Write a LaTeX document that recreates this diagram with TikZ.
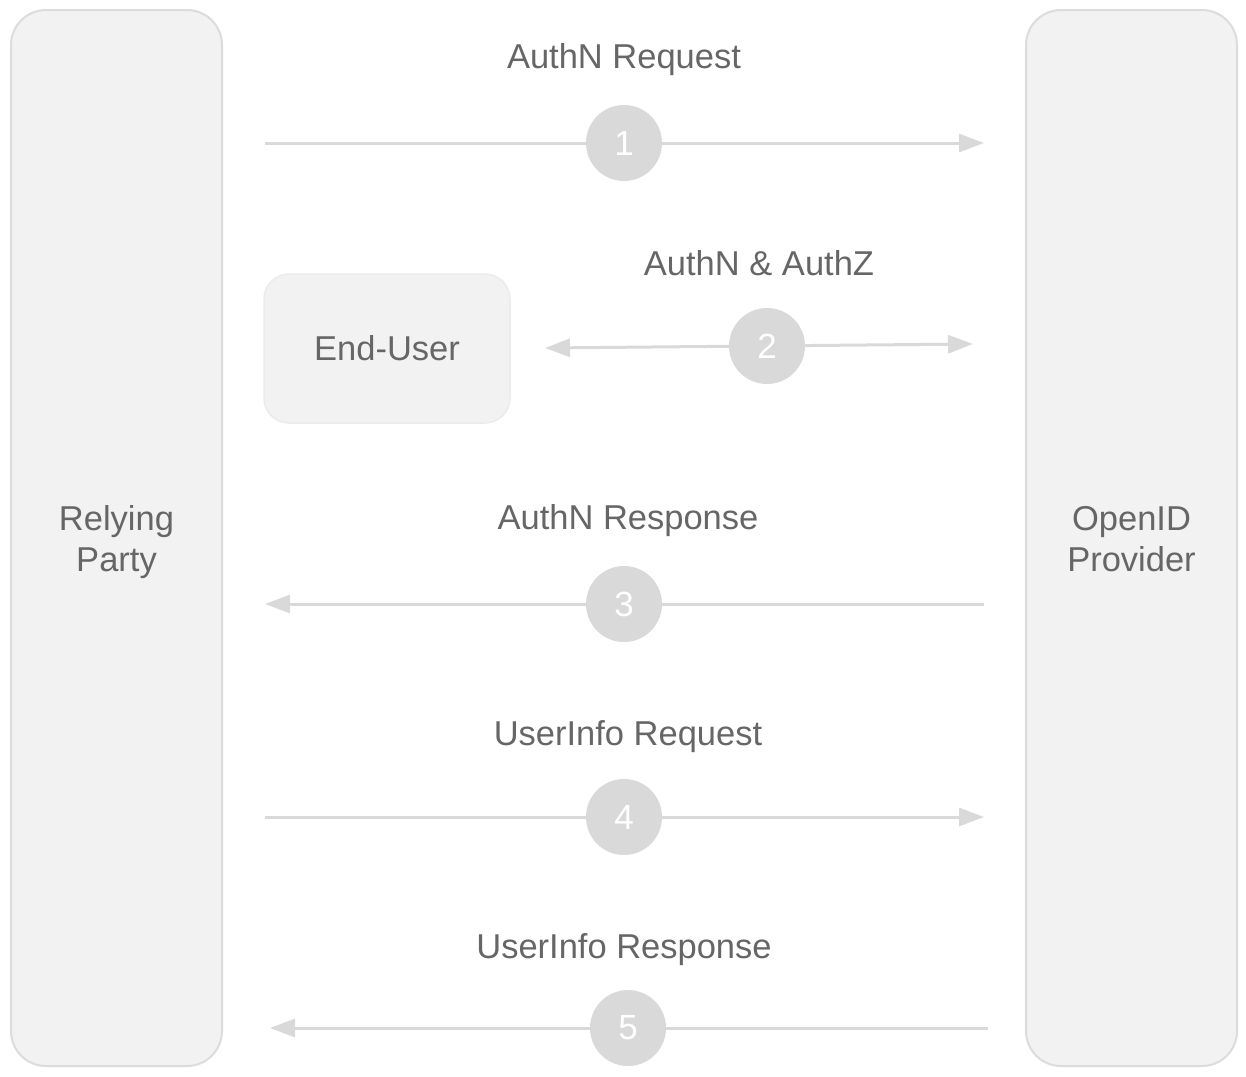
\documentclass[tikz,border=0pt]{standalone}
\usepackage{fontspec}
\setmainfont{Liberation Sans}
\usetikzlibrary{arrows.meta,positioning}
\definecolor{boxfill}{HTML}{F2F2F2}
\definecolor{boxline}{HTML}{DCDCDC}
\definecolor{userline}{HTML}{EBEBEB}
\definecolor{flowline}{HTML}{D9D9D9}
\definecolor{labeltext}{HTML}{666666}

\begin{document}
\begin{tikzpicture}[x=0.5pt,y=-0.5pt,
    party/.style={draw=boxline, line width=1pt, fill=boxfill, rounded corners=17.5pt,
      minimum width=105.5pt, minimum height=528pt},
    partytext/.style={text=labeltext, align=center, font=\fontsize{17.25}{20.5}\selectfont},
    enduser/.style={draw=userline, line width=0.75pt, fill=boxfill, rounded corners=12.5pt,
      minimum width=123pt, minimum height=74.5pt, text=labeltext,
      font=\fontsize{17.25}{20.5}\selectfont},
    msg/.style={text=labeltext, font=\fontsize{17.25}{20.5}\selectfont},
    stepdot/.style={circle, fill=flowline, minimum size=38pt, inner sep=0pt,
      text=white, font=\fontsize{17.5}{20}\selectfont},
    flow/.style={draw=flowline, line width=1.5pt, -{Triangle[length=12.5pt,width=9pt]}},
    flowboth/.style={flow, {Triangle[length=12.5pt,width=9pt]}-{Triangle[length=12.5pt,width=9pt]}}]
  \useasboundingbox (0,0) rectangle (1246,1076);

  \node[party, label={[partytext, yshift=-2pt]center:{Relying\\Party}}] (rp) at (116.5,538) {};
  \node[party, label={[partytext, yshift=-0.5pt]center:{OpenID\\Provider}}] (op) at (1131.5,538) {};
  \node[enduser] (user) at (387,348.5) {End-User};

  % 1: authentication request
  \coordinate (r1) at (265,143);
  \coordinate (o1) at (984,143);
  \draw[flow] (r1) -- (o1);
  \node[stepdot] (s1) at (624,143) {1};
  \node[msg] (m1) at (624,60) {AuthN Request};

  % 2: end-user authenticates and authorizes
  \coordinate (u2) at (545,348);
  \coordinate (o2) at (973,344);
  \draw[flowboth] (u2) -- (o2);
  \node[stepdot] (s2) at (767,346) {2};
  \node[msg] (m2) at (759,263) {AuthN \& AuthZ};

  % 3: authentication response
  \coordinate (o3) at (984,604);
  \coordinate (r3) at (265,604);
  \draw[flow] (o3) -- (r3);
  \node[stepdot] (s3) at (624,604) {3};
  \node[msg] (m3) at (628,521) {AuthN Response};

  % 4: userinfo request
  \coordinate (r4) at (265,817);
  \coordinate (o4) at (984,817);
  \draw[flow] (r4) -- (o4);
  \node[stepdot] (s4) at (624,817) {4};
  \node[msg] (m4) at (628,737) {UserInfo Request};

  % 5: userinfo response
  \coordinate (o5) at (988,1028);
  \coordinate (r5) at (270,1028);
  \draw[flow] (o5) -- (r5);
  \node[stepdot] (s5) at (628,1028) {5};
  \node[msg] (m5) at (624,950) {UserInfo Response};
\end{tikzpicture}
\end{document}
